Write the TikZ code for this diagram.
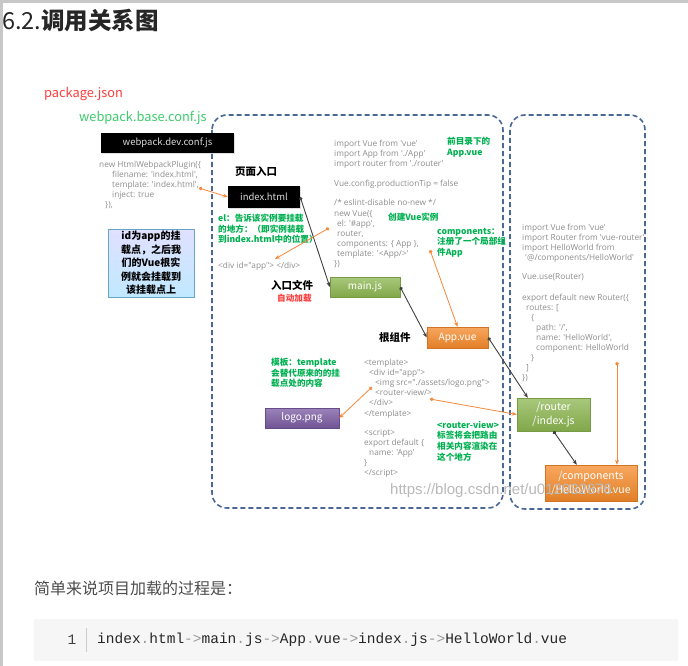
\documentclass[tikz,border=0pt]{standalone}
\usepackage{fontspec}
\setmainfont{Noto Sans CJK SC}
\newfontfamily\codefont{Open Sans}
\newfontfamily\markfont{Liberation Sans}
\setmonofont{Liberation Mono}
\usetikzlibrary{arrows.meta,positioning,shadows}

\definecolor{codegray}{HTML}{8C8C8C}
\definecolor{notegreen}{HTML}{00B050}
\definecolor{notered}{HTML}{FF3B3B}
\definecolor{webgreen}{HTML}{3CCB6C}
\definecolor{dashblue}{HTML}{4A6896}
\definecolor{arroworange}{HTML}{F5873A}
\definecolor{officegreen}{HTML}{8CB650}
\definecolor{officeorange}{HTML}{F58A2A}
\definecolor{officepurple}{HTML}{7A5AA2}
\definecolor{codebg}{HTML}{F6F6F6}
\definecolor{punctgray}{HTML}{9A9A9A}

\newcommand{\arrowsep}{\textcolor{punctgray}{->}}
\newcommand{\dotsep}{\textcolor{punctgray}{.}}

\begin{document}
\begin{tikzpicture}[
  x=1pt, y=-1pt,
  >=Stealth,
  codetext/.style={text=codegray, font=\codefont\fontsize{8.3}{10.1}\selectfont, align=left, inner sep=0pt, anchor=north west},
  note/.style={text=notegreen, font=\bfseries\fontsize{8.6}{10.6}\selectfont, align=left, inner sep=0pt, anchor=north west},
  caption/.style={font=\bfseries\fontsize{10.5}{12}\selectfont, inner sep=0pt, anchor=west},
  darkbox/.style={fill=black, text=white!85!black, font=\fontsize{9.5}{11}\selectfont, inner sep=0pt,
    drop shadow={opacity=0.25, shadow xshift=1pt, shadow yshift=-1pt}},
  filebox/.style={draw=#1!85!black, top color=#1!75!white, bottom color=#1!92!black, text=white,
    font=\fontsize{10}{13}\selectfont, align=center, inner sep=0pt,
    drop shadow={opacity=0.25, shadow xshift=1pt, shadow yshift=-1pt}},
  bluenote/.style={draw=blue!30!cyan!60!black!60, top color=blue!12!white, bottom color=blue!35!cyan!25!white,
    align=center, inner sep=0pt, font=\bfseries\fontsize{10}{13.4}\selectfont},
  scopebox/.style={draw=dashblue, line width=1.6pt, dash pattern=on 5pt off 3pt, rounded corners=15pt},
  calls/.style={draw=black!75, line width=0.9pt, {Circle[length=3.5pt]}-{Stealth[length=5pt,width=4pt]}},
  refers/.style={draw=arroworange, line width=0.8pt, {Circle[length=3.5pt]}-{Stealth[length=5pt,width=4pt]}}
]
  \useasboundingbox (0,0) rectangle (688,666);
  \fill[black!22] (0,0) rectangle (688,3);
  \fill[black!22] (0,0) rectangle (3,666);

  % heading
  \node[anchor=west, inner sep=0pt, text=black!85, font=\fontsize{23.5}{26}\selectfont] (title) at (2,21) {6.2.\textbf{调用关系图}};

  % dashed groups
  \draw[scopebox] (212,115) rectangle (503,508);
  \draw[scopebox] (510,115) rectangle (645,509);

  % config files
  \node[anchor=west, inner sep=0pt, text=notered, font=\fontsize{12.8}{14}\selectfont] (pkg) at (44,94) {package.json};
  \node[anchor=west, inner sep=0pt, text=webgreen, font=\fontsize{12.8}{14}\selectfont] (baseconf) at (79,118) {webpack.base.conf.js};
  \node[darkbox, minimum width=133pt, minimum height=20pt] (devconf) at (167.5,143) {webpack.dev.conf.js};
  \node[codetext] (plugin) at (99,161) {new HtmlWebpackPlugin(\{\\
    \hspace*{13pt}filename: 'index.html',\\
    \hspace*{13pt}template: 'index.html',\\
    \hspace*{13pt}inject: true\\
    \hspace*{6pt}\}),};
  \node[bluenote, minimum width=86pt, minimum height=68pt] (mountnote) at (151,263)
    {id为app的挂\\载点，之后我\\们的Vue根实\\例就会挂载到\\该挂载点上};

  % index.html
  \node[caption] (pagecap) at (235,172) {页面入口};
  \node[darkbox, minimum width=72pt, minimum height=22pt] (index) at (264,197) {index.html};
  \node[note] (elnote) at (218,214) {el：告诉该实例要挂载\\的地方：（即实例装载\\到index.html中的位置）};
  \node[codetext, anchor=west] (divtag) at (218,266) {<div id="app"> </div>};

  % main.js
  \node[codetext] (maincode) at (334,140) {import Vue from 'vue'\\
    import App from './App'\\
    import router from './router'\\[10pt]
    Vue.config.productionTip = false\\[9pt]
    /* eslint-disable no-new */\\
    new Vue(\{\\
    \hspace*{3pt}el: '\#app',\\
    \hspace*{3pt}router,\\
    \hspace*{3pt}components: \{ App \},\\
    \hspace*{3pt}template: '<App/>'\\
    \})};
  \node[note] (dirnote) at (447,137) {前目录下的\\App.vue};
  \node[note] (vuenote) at (388,213) {创建Vue实例};
  \node[note] (compnote) at (437,228) {components：\\注册了一个局部组\\件App};
  \node[caption] (entrycap) at (271,285) {入口文件};
  \node[caption, text=notered, font=\bfseries\fontsize{8.6}{10}\selectfont] (autocap) at (277,298) {自动加载};
  \node[filebox=officegreen, minimum width=70pt, minimum height=20pt] (main) at (365,287) {main.js};

  % App.vue
  \node[caption] (rootcap) at (379,337) {根组件};
  \node[filebox=officeorange, minimum width=61pt, minimum height=21pt] (app) at (457.5,337.5) {App.vue};
  \node[note] (tplnote) at (271,358) {模板：template\\会替代原来的的挂\\载点处的内容};
  \node[filebox=officepurple, minimum width=74pt, minimum height=20pt] (logo) at (302,418) {logo.png};
  \node[codetext] (tplcode) at (364,359) {<template>\\
    \hspace*{5pt}<div id="app">\\
    \hspace*{11pt}<img src="./assets/logo.png">\\
    \hspace*{11pt}<router-view/>\\
    \hspace*{5pt}</div>\\
    </template>\\[9pt]
    <script>\\
    export default \{\\
    \hspace*{5pt}name: 'App'\\
    \}\\
    </script>};
  \node[note] (viewnote) at (437,421) {<router-view>\\标签将会把路由\\相关内容渲染在\\这个地方};

  % router
  \node[codetext] (routecode) at (522,224) {import Vue from 'vue'\\
    import Router from 'vue-router'\\
    import HelloWorld from\\
    \hspace*{3pt}'@/components/HelloWorld'\\[9pt]
    Vue.use(Router)\\[10pt]
    export default new Router(\{\\
    \hspace*{4pt}routes: [\\
    \hspace*{9pt}\{\\
    \hspace*{14pt}path: '/',\\
    \hspace*{14pt}name: 'HelloWorld',\\
    \hspace*{14pt}component: HelloWorld\\
    \hspace*{9pt}\}\\
    \hspace*{4pt}]\\
    \})};
  \node[filebox=officegreen, minimum width=73pt, minimum height=33pt, font=\fontsize{10.5}{14}\selectfont] (router) at (553.5,414.5) {/router\\/index.js};
  \node[filebox=officeorange, minimum width=92pt, minimum height=36pt, font=\fontsize{10.5}{14}\selectfont] (hello) at (591,483) {/components\\/HelloWorld.vue};

  \node[anchor=west, inner sep=0pt, text=black!28, font=\markfont\fontsize{15}{18}\selectfont] (mark) at (390,491) {https://blog.csdn.net/u012032876};

  % call chain
  \draw[calls] (index.east) -- (main.west);
  \draw[calls] (main.east) -- (app.west);
  \draw[calls] (app.east) -- ([xshift=11pt]router.north west);
  \draw[calls] (router.south) -- ([xshift=32pt]hello.north west);

  % references into the code
  \coordinate (pluginpt) at (199,188);
  \coordinate (elpt) at (329,228);
  \coordinate (divpt) at (275,259);
  \coordinate (comppt) at (430,250);
  \coordinate (imgpt) at (372,387);
  \coordinate (viewpt) at (430,399);
  \coordinate (routept) at (617,362);
  \draw[refers] (pluginpt) -- (index.west);
  \draw[refers] (elpt) -- (divpt);
  \draw[refers] (comppt) -- (app.north);
  \draw[refers] (imgpt) -- (logo.east);
  \draw[refers] (viewpt) -- (router.west);
  \draw[refers] (routept) -- (routept |- hello.north);

  % summary
  \node[anchor=west, inner sep=0pt, text=black!70, font=\fontsize{16}{20}\selectfont] (summary) at (34,588) {简单来说项目加载的过程是：};
  \fill[codebg] (34,619) rectangle (678,661);
  \node[inner sep=0pt, text=black!75, font=\ttfamily\fontsize{14.5}{17}\selectfont] (lineno) at (72,640) {1};
  \draw[black!20, line width=0.8pt] (86,628) -- (86,652);
  \node[anchor=west, inner sep=0pt, text=black!85, font=\ttfamily\fontsize{14.5}{17}\selectfont] (chain) at (97,640)
    {index\dotsep html\arrowsep main\dotsep js\arrowsep App\dotsep vue\arrowsep index\dotsep js\arrowsep HelloWorld\dotsep vue};
\end{tikzpicture}
\end{document}
